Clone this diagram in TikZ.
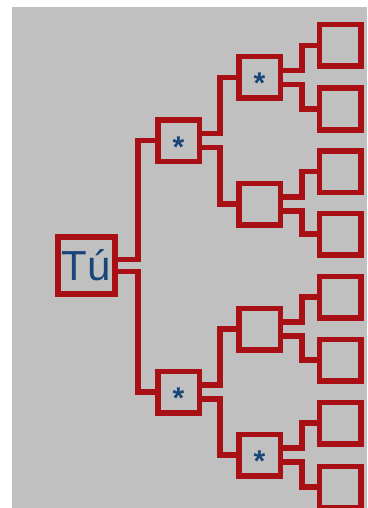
\documentclass[tikz,border=0pt]{standalone}
\usepackage{fontspec}
\setmainfont{Liberation Sans}
\definecolor{bg}{RGB}{192,192,192}
\definecolor{bred}{RGB}{168,16,22}
\definecolor{tblue}{RGB}{24,70,120}
\newcommand{\starmark}{\raisebox{-0.55em}[0pt][0pt]{*}}
\begin{document}
\begin{tikzpicture}[x=1pt,y=-1pt,
  box/.style={draw=bred,line width=5.5pt,minimum size=41.5pt,inner sep=0pt,fill=bg},
  link/.style={draw=bred,line width=5.5pt},
  starbox/.style={box,text=tblue,font=\fontsize{30}{30}\selectfont\bfseries}]
\useasboundingbox (0,0) rectangle (367,508);
\fill[bg] (12,7) rectangle (367,508);
% nodes
\node[box,line width=6pt,minimum size=57pt,text=tblue,font=\fontsize{42}{42}\selectfont] (tu) at (86.5,265.5) {Tú};
\node[starbox] (a1) at (178.5,140.5) {\starmark};
\node[starbox] (a2) at (178.5,392) {\starmark};
\node[starbox] (b1) at (259.5,77.5) {\starmark};
\node[box] (b2) at (259.5,204) {};
\node[box] (b3) at (259.5,329) {};
\node[starbox] (b4) at (259.5,455) {\starmark};
\node[box] (c1) at (340,45.5) {};
\node[box] (c2) at (340,109) {};
\node[box] (c3) at (340,171.5) {};
\node[box] (c4) at (340,234) {};
\node[box] (c5) at (340,297) {};
\node[box] (c6) at (340,360) {};
\node[box] (c7) at (340,423) {};
\node[box] (c8) at (340,487) {};
% connectors
\draw[link] ([yshift=6pt]tu.east) -- ++(20,0) |- (a1.west);
\draw[link] ([yshift=-6pt]tu.east) -- ++(20,0) |- (a2.west);
\draw[link] ([yshift=7pt]a1.east) -- ++(18,0) |- (b1.west);
\draw[link] ([yshift=-7pt]a1.east) -- ++(18,0) |- (b2.west);
\draw[link] ([yshift=7pt]a2.east) -- ++(18,0) |- (b3.west);
\draw[link] ([yshift=-7pt]a2.east) -- ++(18,0) |- (b4.west);
\draw[link] ([yshift=7pt]b1.east) -- ++(19,0) |- (c1.west);
\draw[link] ([yshift=-7pt]b1.east) -- ++(19,0) |- (c2.west);
\draw[link] ([yshift=7pt]b2.east) -- ++(19,0) |- (c3.west);
\draw[link] ([yshift=-7pt]b2.east) -- ++(19,0) |- (c4.west);
\draw[link] ([yshift=7pt]b3.east) -- ++(19,0) |- (c5.west);
\draw[link] ([yshift=-7pt]b3.east) -- ++(19,0) |- (c6.west);
\draw[link] ([yshift=7pt]b4.east) -- ++(19,0) |- (c7.west);
\draw[link] ([yshift=-7pt]b4.east) -- ++(19,0) |- (c8.west);
\end{tikzpicture}
\end{document}
